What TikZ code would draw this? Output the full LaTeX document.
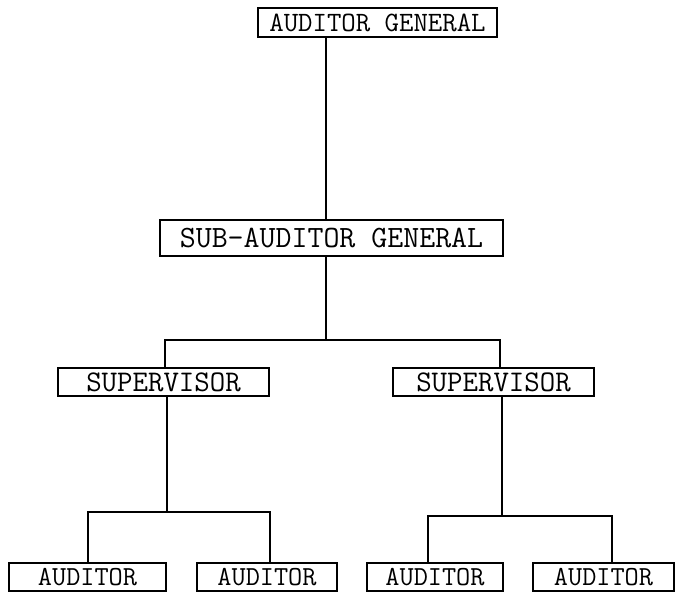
\documentclass[tikz,border=0pt]{standalone}
\usepackage{fontspec}
\begin{document}
\begin{tikzpicture}[x=1pt,y=-1pt,
  box/.style={draw, line width=1.6pt, inner sep=0pt, font=\ttfamily},
  conn/.style={line width=1.6pt}]
\useasboundingbox[fill=white] (0,0) rectangle (678,592);
\node[box, minimum width=239pt, minimum height=29pt, font=\ttfamily\fontsize{28}{28}\selectfont] (ag) at (377.5,22.5) {AUDITOR GENERAL};
\node[box, minimum width=343pt, minimum height=36pt, font=\ttfamily\fontsize{31}{31}\selectfont] (sag) at (331.5,238) {SUB-AUDITOR GENERAL};
\node[box, minimum width=211pt, minimum height=28pt, font=\ttfamily\fontsize{30}{30}\selectfont] (sup1) at (163.5,382) {SUPERVISOR};
\node[box, minimum width=201pt, minimum height=28pt, font=\ttfamily\fontsize{30}{30}\selectfont] (sup2) at (493.5,382) {SUPERVISOR};
\node[box, minimum width=157pt, minimum height=28pt, font=\ttfamily\fontsize{27.5}{27.5}\selectfont] (a1) at (87.5,577) {AUDITOR};
\node[box, minimum width=140pt, minimum height=28pt, font=\ttfamily\fontsize{27.5}{27.5}\selectfont] (a2) at (267,577) {AUDITOR};
\node[box, minimum width=136pt, minimum height=28pt, font=\ttfamily\fontsize{27.5}{27.5}\selectfont] (a3) at (435,577) {AUDITOR};
\node[box, minimum width=141pt, minimum height=28pt, font=\ttfamily\fontsize{27.5}{27.5}\selectfont] (a4) at (603.5,577) {AUDITOR};
% main spine
\coordinate (j0) at (326,340);
\draw[conn] (j0 |- ag.south) -- (j0 |- sag.north);
\draw[conn] (j0 |- sag.south) -- (j0);
% first bar
\coordinate (b1l) at (165,340);
\coordinate (b1r) at (500,340);
\draw[conn] (sup1.north -| b1l) -- (b1l) -- (b1r) -- (sup2.north -| b1r);
% left group
\coordinate (j1) at (167,512);
\coordinate (b2l) at (88,512);
\coordinate (b2r) at (270,512);
\draw[conn] (sup1.south -| j1) -- (j1);
\draw[conn] (a1.north -| b2l) -- (b2l) -- (b2r) -- (a2.north -| b2r);
% right group
\coordinate (j2) at (502,516);
\coordinate (b3l) at (428,516);
\coordinate (b3r) at (612,516);
\draw[conn] (sup2.south -| j2) -- (j2);
\draw[conn] (a3.north -| b3l) -- (b3l) -- (b3r) -- (a4.north -| b3r);
\end{tikzpicture}
\end{document}
